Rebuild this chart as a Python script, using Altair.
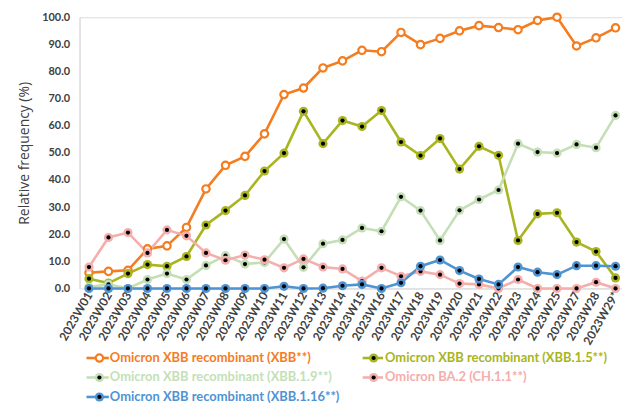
import altair as alt
import pandas as pd

weeks = ["2023W01", "2023W02", "2023W03", "2023W04", "2023W05", "2023W06", "2023W07",
         "2023W08", "2023W09", "2023W10", "2023W11", "2023W12", "2023W13", "2023W14",
         "2023W15", "2023W16", "2023W17", "2023W18", "2023W19", "2023W20", "2023W21",
         "2023W22", "2023W23", "2023W24", "2023W25", "2023W27", "2023W28", "2023W29*"]

series_names = [
    "Omicron XBB recombinant (XBB**)",
    "Omicron XBB recombinant (XBB.1.5**)",
    "Omicron XBB recombinant (XBB.1.9**)",
    "Omicron BA.2 (CH.1.1**)",
    "Omicron XBB recombinant (XBB.1.16**)",
]
colors = ["#F57C1F", "#A8B51E", "#C4DFB6", "#F4AEAC", "#4F93D3"]

xbb = [5.8, 6.3, 6.7, 14.6, 15.7, 22.5, 36.7, 45.4, 48.7, 57.0, 71.5, 73.9, 81.3, 83.9,
       87.8, 87.3, 94.4, 89.9, 92.2, 95.0, 96.9, 96.2, 95.4, 98.8, 100.0, 89.4, 92.4, 96.1]
xbb15 = [3.6, 2.0, 5.5, 8.8, 8.2, 11.8, 23.4, 28.7, 34.3, 43.3, 49.9, 65.3, 53.4, 61.9,
         59.7, 65.6, 54.0, 49.0, 55.3, 44.0, 52.4, 49.1, 17.7, 27.5, 27.9, 17.1, 13.6, 3.9]
xbb19 = [0.5, 1.5, 0.0, 3.3, 5.5, 3.3, 8.5, 12.1, 9.0, 9.6, 18.2, 7.8, 16.5, 17.9,
         22.3, 21.1, 33.8, 28.7, 17.7, 28.8, 32.8, 36.3, 53.4, 50.3, 49.9, 53.1, 51.9, 63.8]
ch11 = [7.9, 18.8, 20.6, 13.1, 21.6, 19.4, 13.1, 10.4, 12.3, 10.6, 7.6, 10.9, 7.9, 7.2,
        2.7, 7.6, 4.5, 6.3, 5.1, 1.8, 1.5, 0.0, 3.3, 0.0, 0.0, 0.0, 2.3, 0.0]
xbb116 = [0.0, 0.0, 0.0, 0.0, 0.0, 0.0, 0.0, 0.0, 0.0, 0.0, 0.8, 0.0, 0.1, 1.0,
          1.5, 0.0, 2.1, 8.2, 10.5, 6.6, 3.5, 1.5, 7.9, 6.0, 5.1, 8.4, 8.4, 8.2]

all_values = [xbb, xbb15, xbb19, ch11, xbb116]

rows = []
for name, vals in zip(series_names, all_values):
    for w, v in zip(weeks, vals):
        rows.append({"week": w, "series": name, "value": v})
df = pd.DataFrame(rows)

FONT = "Lato"
TXT = "#404040"

x_enc = alt.X("week:O", sort=weeks,
              scale=alt.Scale(domain=weeks, range=[9.5, 539.5], padding=0),
              axis=alt.Axis(title=None, labelAngle=300, labelFont=FONT, labelFontSize=12,
                            labelFontWeight="bold", labelColor=TXT, ticks=False,
                            domainColor="#D9D9D9", labelPadding=4))
y_enc = alt.Y("value:Q",
              scale=alt.Scale(domain=[0, 100], nice=False),
              axis=alt.Axis(title="Relative frequency (%)", values=list(range(0, 101, 10)),
                            format=".1f", grid=False, ticks=False, domainColor="#D9D9D9",
                            labelFont=FONT, labelFontSize=11, labelFontWeight="bold",
                            labelColor=TXT, labelPadding=10, titleFont="Open Sans",
                            titleFontSize=14, titleFontWeight="normal", titleColor=TXT,
                            titlePadding=10))

layers = []
base = alt.Chart(df)
for i, (name, col) in enumerate(zip(series_names, colors)):
    b = base.transform_filter(alt.datum.series == name)
    line = b.mark_line(color=col, strokeWidth=2.6).encode(x=x_enc, y=y_enc)
    layers.append(line)
for i, (name, col) in enumerate(zip(series_names, colors)):
    b = base.transform_filter(alt.datum.series == name)
    if i == 0:
        pts = b.mark_point(shape="circle", filled=True, fill="white", stroke=col,
                           strokeWidth=2.2, size=55, opacity=1).encode(x=x_enc, y=y_enc)
        layers.append(pts)
    else:
        pts = b.mark_circle(color=col, size=85, opacity=1).encode(x=x_enc, y=y_enc)
        dot = b.mark_circle(color="black", size=18, opacity=1).encode(x=x_enc, y=y_enc)
        layers.extend([pts, dot])

# manual legend (2 columns, 3 rows)
leg = pd.DataFrame({
    "series": series_names,
    "idx": list(range(len(series_names))),
})
leg_base = alt.Chart(leg).transform_calculate(
    col="datum.idx % 2",
    row="floor(datum.idx / 2)",
).transform_calculate(
    lx1="7 + datum.col * 278",
    lx2="29.5 + datum.col * 276",
    cx="20 + datum.col * 276",
    tx="30.5 + datum.col * 277",
    ly="343 + datum.row * 19.6",
)
cscale = alt.Scale(domain=series_names, range=colors)
leg_line = leg_base.mark_rule(strokeWidth=2.6).encode(
    x=alt.X("lx1:Q", scale=None), x2="lx2:Q", y=alt.Y("ly:Q", scale=None),
    color=alt.Color("series:N", scale=cscale, legend=None))
leg_open = leg_base.transform_filter(alt.datum.idx == 0).mark_point(
    shape="circle", filled=True, fill="white", strokeWidth=2.2, size=55, opacity=1).encode(
    x=alt.X("cx:Q", scale=None), y=alt.Y("ly:Q", scale=None),
    stroke=alt.Stroke("series:N", scale=cscale, legend=None))
leg_fill = leg_base.transform_filter(alt.datum.idx > 0).mark_circle(size=85, opacity=1).encode(
    x=alt.X("cx:Q", scale=None), y=alt.Y("ly:Q", scale=None),
    color=alt.Color("series:N", scale=cscale, legend=None))
leg_dot = leg_base.transform_filter(alt.datum.idx > 0).mark_circle(
    size=18, color="black", opacity=1).encode(
    x=alt.X("cx:Q", scale=None), y=alt.Y("ly:Q", scale=None))
leg_text = leg_base.mark_text(align="left", baseline="middle", font=FONT, fontSize=13,
                              fontWeight="bold").encode(
    x=alt.X("tx:Q", scale=None), y=alt.Y("ly:Q", scale=None), text="series:N",
    color=alt.Color("series:N", scale=cscale, legend=None))

chart = alt.layer(*layers, leg_line, leg_open, leg_fill, leg_dot, leg_text).properties(
    width=546, height=273,
    autosize=alt.AutoSizeParams(type="none"),
    padding={"left": 72, "top": 8, "right": 0, "bottom": 116},
).configure_view(stroke="#D9D9D9", strokeWidth=1.2).configure(background="white")

chart.save("out.html", embed_options={"renderer": "svg", "actions": False})
